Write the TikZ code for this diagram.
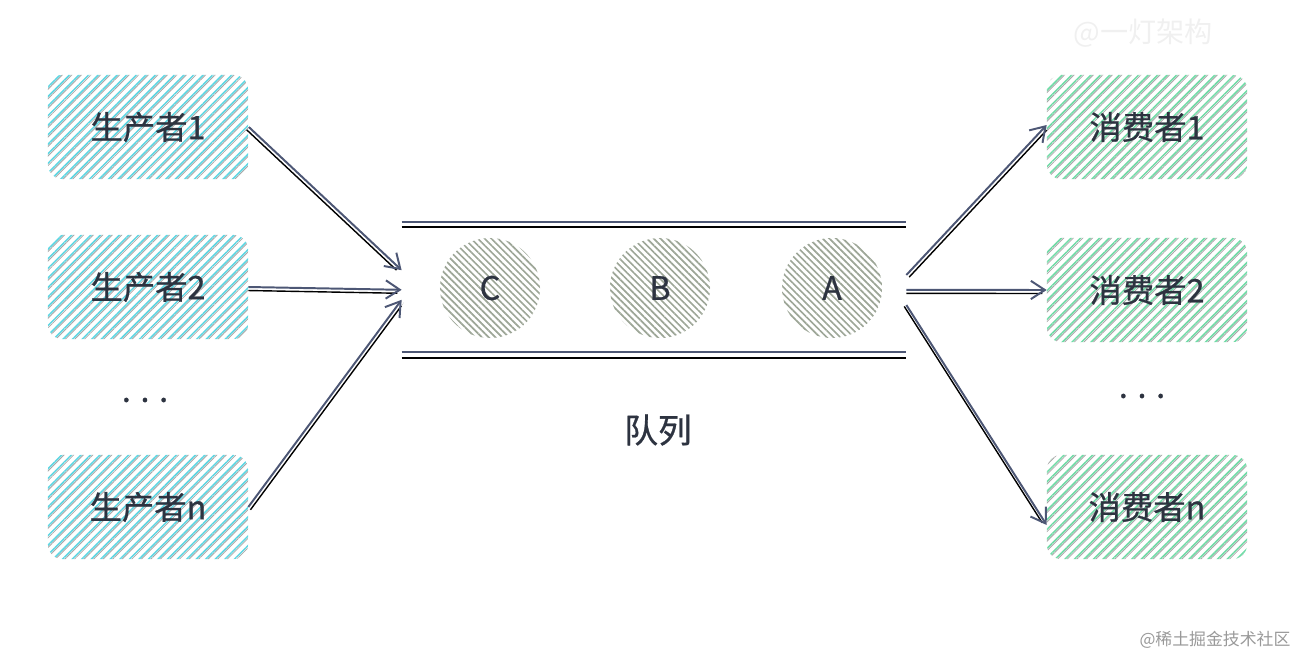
\documentclass[tikz,border=0pt]{standalone}
\usepackage{fontspec}
\setmainfont{Noto Sans CJK SC}
\newfontfamily\labelfont{Noto Sans CJK SC}[FakeBold=0.8]
\usetikzlibrary{patterns.meta,arrows.meta}

\definecolor{ink}{HTML}{2D3340}
\definecolor{wire}{HTML}{4D5775}
\definecolor{shade}{HTML}{A8A8A8}
\definecolor{cyanhatch}{HTML}{5ED6E2}
\definecolor{greenhatch}{HTML}{70DBA6}
\definecolor{ballhatch}{HTML}{9DA697}

\tikzset{
  box/.style={rounded corners=10pt, minimum width=5cm, minimum height=2.6cm,
    text=ink, font=\labelfont\fontsize{23}{28}\selectfont,
    postaction={pattern={Lines[angle=45,distance=4.8pt,xshift=1.6pt,line width=0.6pt]}, pattern color=shade}},
  producer/.style={box, pattern={Lines[angle=45,distance=4.8pt,line width=1.1pt]}, pattern color=cyanhatch},
  consumer/.style={box, pattern={Lines[angle=45,distance=4.8pt,line width=1.1pt]}, pattern color=greenhatch},
  ball/.style={circle, minimum size=2.5cm, text=ink, font=\labelfont\fontsize{23}{28}\selectfont,
    pattern={Lines[angle=-45,distance=3.4pt,line width=1.2pt]}, pattern color=ballhatch},
  pipe/.style={wire, line width=1.3pt},
  pipeshade/.style={shade, line width=1.2pt},
  arr/.style={->, wire, line width=1.4pt},
  arrshade/.style={shade, line width=1pt, shorten >=3pt}
}

\begin{document}
\begin{tikzpicture}[x=0.025cm, y=-0.025cm, >={Straight Barb[length=10pt,width=13pt]}]
\useasboundingbox (0,0) rectangle (1302,660);

% producers
\node[producer] (p1) at (148,127) {生产者1};
\node[producer] (p2) at (148,287) {生产者2};
\node[producer] (pn) at (148,507) {生产者n};
\node[text=ink, font=\labelfont\fontsize{23}{28}\selectfont] (pdots) at (145,400) {. . .};

% consumers
\node[consumer] (c1) at (1147,127) {消费者1};
\node[consumer] (c2) at (1147,290) {消费者2};
\node[consumer] (cn) at (1147,507) {消费者n};
\node[text=ink, font=\labelfont\fontsize{23}{28}\selectfont] (cdots) at (1142,396) {. . .};

% queue
\node[minimum width=12.6cm, minimum height=3.25cm] (q) at (654,287) {};
\draw[pipe] (q.north west) -- (q.north east);
\draw[pipeshade] ([yshift=-0.14cm]q.north west) -- ([yshift=-0.14cm]q.north east);
\draw[pipe] (q.south west) -- (q.south east);
\draw[pipeshade] ([yshift=-0.15cm]q.south west) -- ([yshift=-0.15cm]q.south east);
\node[ball] (ballC) at (490,288) {C};
\node[ball] (ballB) at (660,288) {B};
\node[ball] (ballA) at (832,288) {A};
\node[text=ink, font=\labelfont\fontsize{24}{28}\selectfont] (qlabel) at (658,430) {队列};

% producers -> queue
\draw[arrshade, transform canvas={xshift=-1.5pt,yshift=-2pt}] (p1.east) -- ([yshift=0.42cm]q.west);
\draw[arr] (p1.east) -- ([yshift=0.42cm]q.west);
\draw[arrshade, transform canvas={yshift=-2.5pt}] (p2.east) -- ([yshift=-0.07cm]q.west);
\draw[arr] (p2.east) -- ([yshift=-0.07cm]q.west);
\draw[arrshade, transform canvas={xshift=1.5pt,yshift=-2pt}] (pn.east) -- ([yshift=-0.32cm]q.west);
\draw[arr] (pn.east) -- ([yshift=-0.32cm]q.west);

% queue -> consumers
\draw[arrshade, transform canvas={xshift=2pt,yshift=-1.5pt}] ([yshift=0.3cm]q.east) -- ([yshift=0.05cm]c1.west);
\draw[arr] ([yshift=0.3cm]q.east) -- ([yshift=0.05cm]c1.west);
\draw[arrshade, transform canvas={yshift=-2.5pt}] ([yshift=-0.07cm]q.east) -- (c2.west);
\draw[arr] ([yshift=-0.07cm]q.east) -- (c2.west);
\draw[arrshade, transform canvas={xshift=-1.5pt,yshift=-1pt}] ([yshift=-0.45cm]q.east) -- ([yshift=-0.45cm]cn.west);
\draw[arr] ([yshift=-0.45cm]q.east) -- ([yshift=-0.45cm]cn.west);

% watermarks
\node[text=black!6, font=\fontsize{20}{24}\selectfont] (mark) at (1143,33) {@一灯架构};
\node[text=black!40, font=\fontsize{12}{14}\selectfont] (site) at (1215,640) {@稀土掘金技术社区};
\end{tikzpicture}
\end{document}
